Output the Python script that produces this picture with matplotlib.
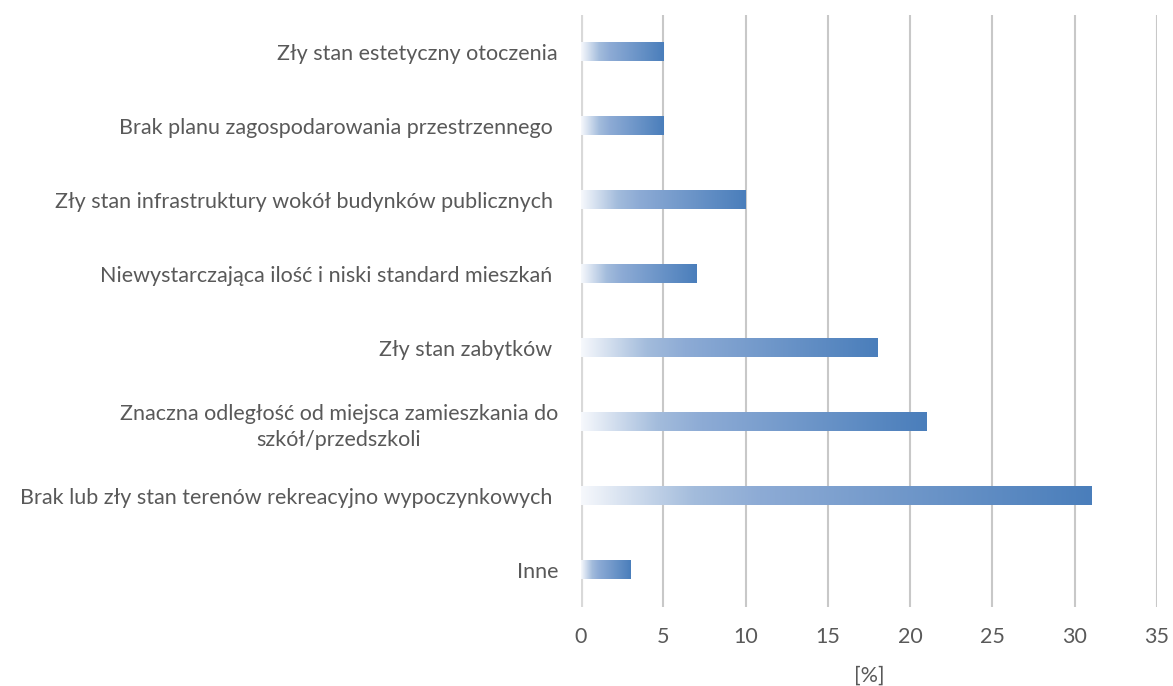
import numpy as np
import matplotlib.pyplot as plt
from matplotlib.colors import LinearSegmentedColormap

plt.rcParams['font.family'] = ['Lato', 'DejaVu Sans']

categories = [
    'Zły stan estetyczny otoczenia',
    'Brak planu zagospodarowania przestrzennego ',
    'Zły stan infrastruktury wokół budynków publicznych ',
    'Niewystarczająca ilość i niski standard mieszkań ',
    'Zły stan zabytków ',
    'Znaczna odległość od miejsca zamieszkania do\nszkół/przedszkoli',
    'Brak lub zły stan terenów rekreacyjno wypoczynkowych ',
    'Inne',
]
values = [5, 5, 10, 7, 18, 21, 31, 3]
xticks = [0, 5, 10, 15, 20, 25, 30, 35]

grad = LinearSegmentedColormap.from_list(
    'grad', [(0.0, '#f6f8fc'), (0.22, '#a3bcdc'), (0.35, '#8dabd5'), (1.0, '#4a7ebb')])

fig = plt.figure(figsize=(11.73, 6.86), dpi=100)
ax = fig.add_axes([0.4953, 0.115, 0.4911, 0.863])

ramp = np.linspace(0, 1, 256).reshape(1, -1)
h = 0.25
for i, v in enumerate(values):
    ax.imshow(ramp, cmap=grad, aspect='auto', interpolation='bilinear',
              extent=[0, v, i + h / 2, i - h / 2], zorder=3)

ax.set_xlim(0, 35)
ax.set_ylim(len(categories) - 0.5, -0.5)
ax.set_yticks(range(len(categories)))
ax.set_yticklabels(categories, fontsize=15.5, color='#595959',
                   multialignment='center', linespacing=1.35)
ax.set_xticks(xticks)
ax.set_xticklabels([str(t) for t in xticks], fontsize=15.5, color='#595959')
ax.tick_params(axis='both', length=0)
ax.tick_params(axis='y', pad=16.5)
ax.tick_params(axis='x', pad=14)
ax.set_xlabel('[%]', fontsize=15.5, color='#595959', labelpad=14)

for s in ax.spines.values():
    s.set_visible(False)
ax.grid(axis='x', color='#c8c8c8', linewidth=1.5, zorder=0)
ax.grid(axis='y', visible=False)
ax.axvline(0, color='#d9d9d9', linewidth=3, zorder=2)

fig.savefig('out.png', dpi=100)
